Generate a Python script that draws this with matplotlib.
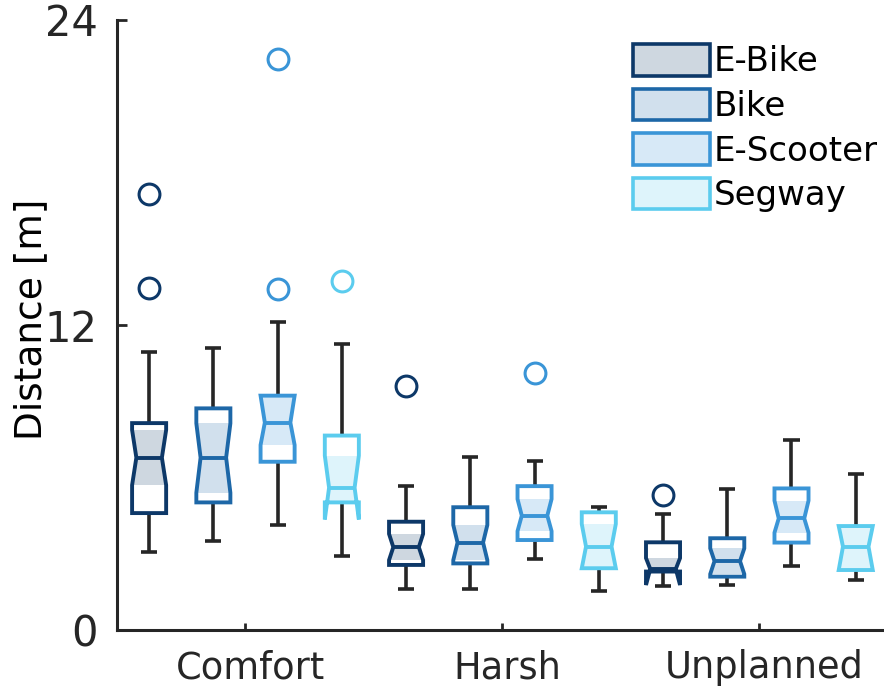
import numpy as np
import matplotlib
matplotlib.use('Agg')
import matplotlib.pyplot as plt
from matplotlib.patches import Polygon, Rectangle, Patch
from matplotlib.transforms import ScaledTranslation

plt.rcParams.update({
    'font.family': ['DejaVu Sans'],
    'font.size': 26,
})

# Data (box stats per vehicle, per scenario)
categories = ['Comfort', 'Harsh', 'Unplanned']
vehicles = ['E-Bike', 'Bike', 'E-Scooter', 'Segway']
edge_colors = ['#0D3868', '#1D67A7', '#3A95D7', '#5BCCEE']

q1 = {
    'E-Bike':    [4.60, 2.56, 2.30],
    'Bike':      [5.02, 2.62, 2.10],
    'E-Scooter': [6.62, 3.54, 3.44],
    'Segway':    [5.02, 2.43, 2.36],
}
med = {
    'E-Bike':    [6.78, 3.26, 2.40],
    'Bike':      [6.78, 3.44, 2.71],
    'E-Scooter': [8.16, 4.50, 4.39],
    'Segway':    [5.60, 3.28, 3.28],
}
q3 = {
    'E-Bike':    [8.14, 4.26, 3.45],
    'Bike':      [8.72, 4.83, 3.61],
    'E-Scooter': [9.22, 5.66, 5.57],
    'Segway':    [7.65, 4.63, 4.09],
}
notch_lo = {
    'E-Bike':    [5.70, 2.75, 1.77],
    'Bike':      [5.40, 2.75, 2.20],
    'E-Scooter': [7.28, 3.89, 3.83],
    'Segway':    [4.35, 2.43, 2.36],
}
notch_hi = {
    'E-Bike':    [7.87, 3.78, 2.83],
    'Bike':      [8.13, 4.13, 3.21],
    'E-Scooter': [9.22, 5.15, 5.09],
    'Segway':    [6.86, 4.17, 4.09],
}
whisker_lo = {
    'E-Bike':    [3.08, 1.63, 1.75],
    'Bike':      [3.51, 1.60, 1.77],
    'E-Scooter': [4.13, 2.81, 2.53],
    'Segway':    [2.91, 1.52, 1.97],
}
whisker_hi = {
    'E-Bike':    [10.95, 5.66, 4.55],
    'Bike':      [11.08, 6.79, 5.53],
    'E-Scooter': [12.13, 6.65, 7.47],
    'Segway':    [11.24, 4.83, 6.13],
}
outliers = {
    'E-Bike':    [[17.15, 13.45], [9.60], [5.31]],
    'Bike':      [[], [], []],
    'E-Scooter': [[22.46, 13.41], [10.12], []],
    'Segway':    [[13.73], [], []],
}

box_w = 0.53
cap_w = 0.25
waist = 0.375
gray = '#262626'

fig = plt.figure(figsize=(8.84, 6.88), dpi=100)
ax = fig.add_axes([117 / 884, 58 / 688, 1 - 117 / 884, 610 / 688])


def draw_box(pos, i, v, color):
    lo, m, hi = q1[v][i], med[v][i], q3[v][i]
    clo, chi = notch_lo[v][i], notch_hi[v][i]
    left, right = pos - box_w / 2, pos + box_w / 2
    nl, nr = pos - box_w * waist, pos + box_w * waist

    # whiskers + caps
    ax.plot([pos, pos], [hi, whisker_hi[v][i]], color=gray, lw=2.6, zorder=1,
            solid_capstyle='butt')
    ax.plot([pos, pos], [lo, whisker_lo[v][i]], color=gray, lw=2.6, zorder=1,
            solid_capstyle='butt')
    for y in (whisker_hi[v][i], whisker_lo[v][i]):
        ax.plot([pos - cap_w / 2, pos + cap_w / 2], [y, y], color=gray, lw=2.6,
                zorder=1, solid_capstyle='butt')

    # notched outline
    xs = [left, right, right, nr, right, right, left, left, nl, left]
    ys = [lo, lo, clo, m, chi, hi, hi, chi, m, clo]
    white = Polygon(np.column_stack([xs, ys]), closed=True, facecolor='white',
                    edgecolor='none', zorder=2)
    ax.add_patch(white)
    outline = Polygon(np.column_stack([xs, ys]), closed=True, facecolor='none',
                      edgecolor=color, lw=2.8, joinstyle='miter', zorder=4)
    ax.add_patch(outline)

    # shaded notch band, clipped to the box shape
    band = Rectangle((left - 0.05, clo), box_w + 0.1, chi - clo,
                     facecolor=color, alpha=0.2, edgecolor='none', zorder=3)
    ax.add_patch(band)
    band.set_clip_path(white)

    # median
    ax.plot([nl, nr], [m, m], color=color, lw=2.8, zorder=5,
            solid_capstyle='butt')

    # outliers
    if outliers[v][i]:
        ax.plot([pos] * len(outliers[v][i]), outliers[v][i], 'o', ms=15,
                mfc='none', mec=color, mew=2.2, zorder=5)


for i, cat in enumerate(categories):
    for j, v in enumerate(vehicles):
        draw_box(1 + 4 * i + j, i, v, edge_colors[j])

ax.set_xlim(0.5, 12.44)
ax.set_ylim(0, 24)
ax.set_yticks([0, 12, 24])
ax.set_xticks([2.5, 6.5, 10.5])
ax.set_xticklabels(categories)
ax.set_ylabel('Distance [m]', fontsize=27)
ax.yaxis.set_label_coords(-0.088, 0.51)
ax.tick_params(direction='in', length=7, width=2, colors=gray, labelcolor=gray)
ax.tick_params(axis='x', length=5, pad=14, labelsize=26.5)
ax.tick_params(axis='y', pad=14, labelsize=30)
shift = ScaledTranslation(5 / 100, 0, fig.dpi_scale_trans)
for lab in ax.get_xticklabels():
    lab.set_transform(lab.get_transform() + shift)
for s in ('top', 'right'):
    ax.spines[s].set_visible(False)
for s in ('left', 'bottom'):
    ax.spines[s].set_color(gray)
    ax.spines[s].set_linewidth(2.2)

handles = [Patch(facecolor=matplotlib.colors.to_rgba(c, 0.2), edgecolor=c, lw=2.6,
                 label=v) for v, c in zip(vehicles, edge_colors)]
fig.legend(handles=handles, loc='upper left', bbox_to_anchor=(633 / 884, 1 - 44 / 688),
           bbox_transform=fig.transFigure, frameon=False, fontsize=24.5,
           handlelength=2.25, handleheight=1.05, handletextpad=0.12,
           labelspacing=0.3, borderpad=0, borderaxespad=0)

fig.savefig('out.png', dpi=100)
